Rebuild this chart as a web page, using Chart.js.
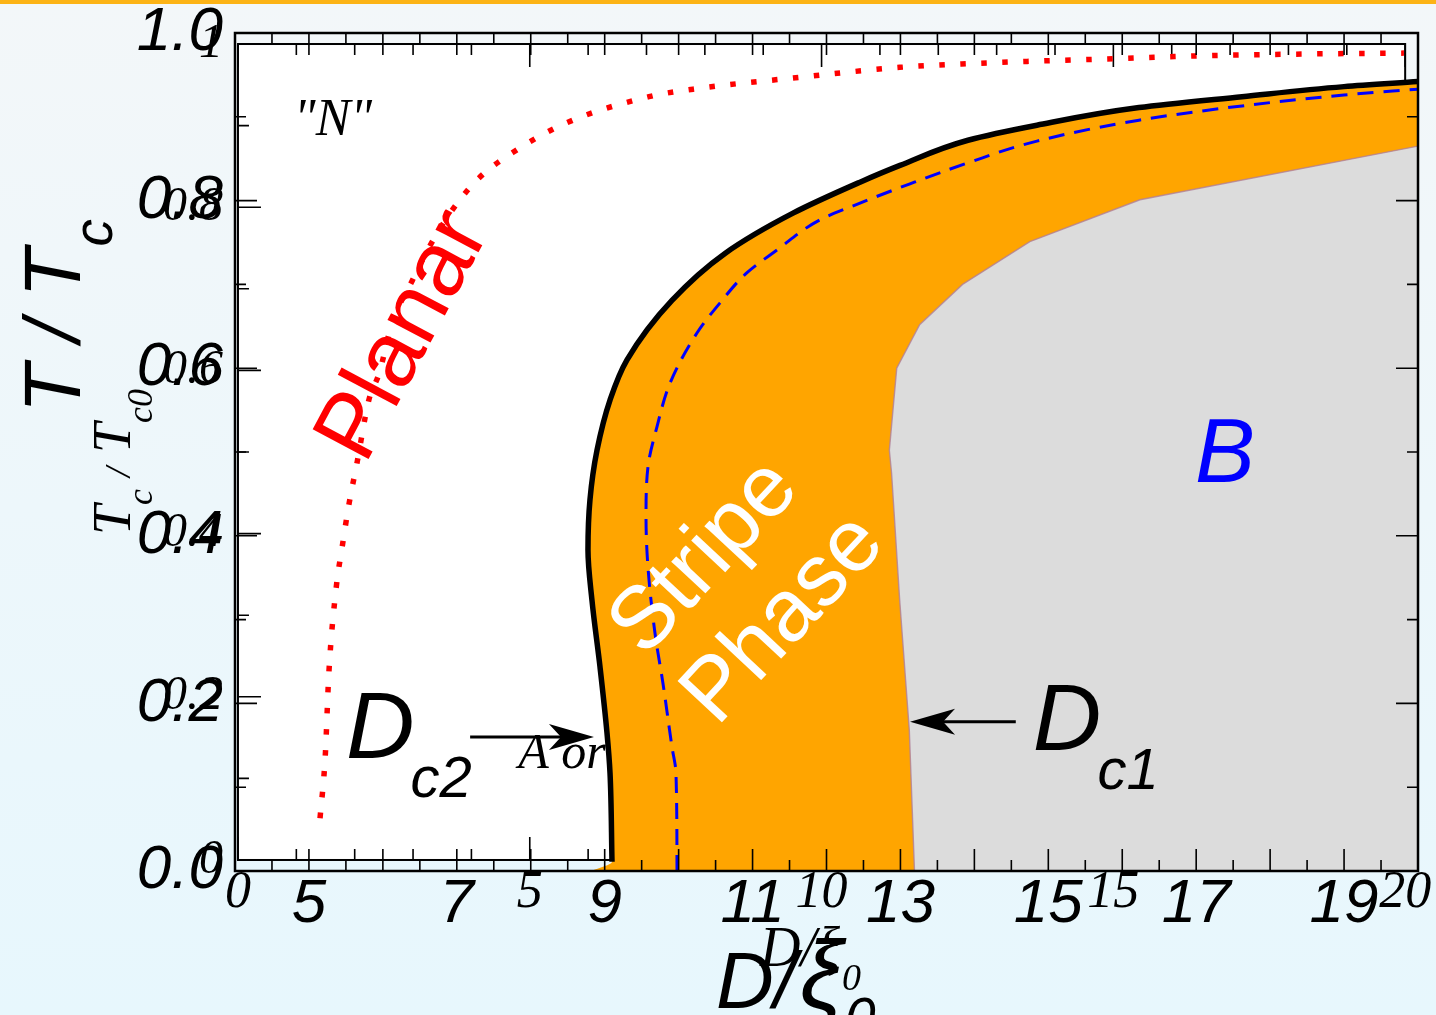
<!DOCTYPE html>
<html>
<head>
<meta charset="utf-8">
<title>Phase diagram</title>
<script src="https://cdn.jsdelivr.net/npm/chart.js@4.4.1/dist/chart.umd.min.js"></script>
<style>
  html, body { margin: 0; padding: 0; }
  body {
    width: 1436px; height: 1015px; overflow: hidden; position: relative;
    background: linear-gradient(to bottom, #f3f7f9 0%, #e7f7fd 100%);
  }
  #topbar { position: absolute; left: 0; top: 0; width: 1436px; height: 4px; background: #fcb316; }
  .wrap { position: absolute; left: 0; top: 0; width: 1436px; height: 1015px; }
</style>
</head>
<body>
<div class="wrap"><canvas id="phase"></canvas></div>
<div id="topbar"></div>
<script>
const sans = '"Liberation Sans", Arial, sans-serif';
const serif = '"Liberation Serif", "Times New Roman", serif';

// tick labels
const dTicks = [5, 7, 9, 11, 13, 15, 17, 19];
const tTicks = [0, 0.2, 0.4, 0.6, 0.8, 1.0];
const dTicksRef = [0, 5, 10, 15, 20];
const tTicksRef = [0, 0.2, 0.4, 0.6, 0.8, 1];

// Dc2 line (upper boundary of the stripe phase); first point is the foot of the fill
const dc2D = [8.82, 9.099, 9.072, 9.031, 8.936, 8.828, 8.774, 8.801, 8.896, 9.072, 9.302, 9.910, 10.627, 11.547, 12.453, 12.994, 13.913, 14.846, 16.226, 17.619, 18.999, 20.0];
const dc2T = [0.0, 0.011, 0.117, 0.165, 0.244, 0.323, 0.383, 0.443, 0.502, 0.562, 0.610, 0.681, 0.737, 0.785, 0.822, 0.842, 0.872, 0.890, 0.911, 0.924, 0.936, 0.942];

// dashed line inside the stripe phase
const innerD = [9.978, 9.964, 9.91, 9.788, 9.68, 9.585, 9.559, 9.585, 9.707, 9.883, 10.248, 10.56, 10.925, 11.33, 11.912, 12.453, 13.129, 13.913, 14.846, 16.226, 17.619, 18.999, 20.0];
const innerT = [0.0, 0.117, 0.148, 0.224, 0.284, 0.363, 0.422, 0.482, 0.530, 0.582, 0.642, 0.678, 0.714, 0.741, 0.777, 0.797, 0.820, 0.845, 0.871, 0.896, 0.913, 0.926, 0.933];

// Dc1 line (edge of the B phase)
const dc1D = [13.19, 13.12, 12.99, 12.88, 12.85, 12.95, 13.26, 13.84, 14.75, 16.24, 20.0];
const dc1T = [0.0, 0.168, 0.323, 0.475, 0.502, 0.600, 0.652, 0.700, 0.751, 0.801, 0.865];

// planar transition
const planarD = [5.15, 5.22, 5.27, 5.37, 5.45, 5.54, 5.65, 5.81, 5.95, 6.125, 6.40, 6.63, 6.94, 7.30, 7.75, 8.49, 9.60, 10.28, 11.63, 12.99, 14.38, 15.76, 17.16, 18.54, 19.81];
const planarT = [0.063, 0.136, 0.237, 0.339, 0.387, 0.437, 0.487, 0.562, 0.594, 0.654, 0.705, 0.745, 0.789, 0.827, 0.857, 0.893, 0.924, 0.934, 0.947, 0.959, 0.965, 0.969, 0.973, 0.975, 0.976];

const pts = (xs, ys) => xs.map((x, i) => ({ x: x, y: ys[i] }));

function arrow(ctx, x0, y0, x1, y1) {
  const a = Math.atan2(y1 - y0, x1 - x0);
  ctx.save();
  ctx.lineWidth = 3;
  ctx.beginPath();
  ctx.moveTo(x0, y0);
  ctx.lineTo(x1 - 30 * Math.cos(a), y1 - 30 * Math.sin(a));
  ctx.stroke();
  ctx.translate(x1, y1);
  ctx.rotate(a);
  ctx.beginPath();
  ctx.moveTo(0, 0);
  ctx.lineTo(-45, -13);
  ctx.lineTo(-33, 0);
  ctx.lineTo(-45, 13);
  ctx.closePath();
  ctx.fill();
  ctx.restore();
}

function dLabel(ctx, x, y, sub) {
  ctx.font = 'italic 95px ' + sans;
  ctx.textAlign = 'left';
  ctx.textBaseline = 'alphabetic';
  ctx.fillText('D', x, y);
  const w = ctx.measureText('D').width;
  ctx.font = 'italic 58px ' + sans;
  ctx.fillText(sub, x + w - 4, y + 39);
}

function rotated(ctx, text, x, y, deg, font, color) {
  ctx.save();
  ctx.translate(x, y);
  ctx.rotate(deg * Math.PI / 180);
  ctx.font = font;
  ctx.fillStyle = color;
  ctx.textAlign = 'center';
  ctx.textBaseline = 'middle';
  ctx.fillText(text, 0, 0);
  ctx.restore();
}

const decor = {
  id: 'decor',
  beforeDatasetsDraw(chart) {
    const { ctx, chartArea: a } = chart;
    const sx = chart.scales.x2, sy = chart.scales.y2;
    const l = sx.getPixelForValue(0), r = sx.getPixelForValue(20);
    const t = sy.getPixelForValue(1), b = sy.getPixelForValue(0);
    ctx.save();
    ctx.fillStyle = '#fff';
    ctx.fillRect(l, t, r - l, b - t);
    ctx.strokeStyle = '#000';
    ctx.lineWidth = 1.6;
    ctx.beginPath();
    for (let v = 0; v <= 20; v++) {
      const px = sx.getPixelForValue(v), len = v % 5 === 0 ? 23 : 11;
      ctx.moveTo(px, b); ctx.lineTo(px, b - len);
      ctx.moveTo(px, t); ctx.lineTo(px, t + len);
    }
    for (let k = 0; k <= 10; k++) {
      const py = sy.getPixelForValue(k / 10), len = k % 2 === 0 ? 23 : 11;
      ctx.moveTo(l, py); ctx.lineTo(l + len, py);
      ctx.moveTo(r, py); ctx.lineTo(r - len, py);
    }
    ctx.stroke();
    ctx.lineWidth = 2;
    ctx.strokeRect(l, t, r - l, b - t);

    // tick labels of the second frame
    ctx.fillStyle = '#000';
    ctx.font = 'italic 52px ' + serif;
    ctx.textAlign = 'center';
    ctx.textBaseline = 'middle';
    dTicksRef.forEach(v => ctx.fillText(String(v), sx.getPixelForValue(v), a.bottom + 22));
    ctx.font = 'italic 48px ' + serif;
    ctx.textAlign = 'right';
    tTicksRef.forEach(v => ctx.fillText((v === 0 || v === 1) ? String(v) : v.toFixed(1), a.left - 12, sy.getPixelForValue(v)));

    const x = chart.scales.x, y = chart.scales.y;
    ctx.font = 'italic 50px ' + serif;
    ctx.textAlign = 'left';
    ctx.textBaseline = 'alphabetic';
    ctx.fillText('A or', x.getPixelForValue(7.83), y.getPixelForValue(0.123));
    ctx.restore();
  },
  afterDatasetsDraw(chart) {
    const { ctx, chartArea: a } = chart;
    const x = chart.scales.x, y = chart.scales.y;
    ctx.save();
    ctx.strokeStyle = '#000';
    ctx.fillStyle = '#000';
    ctx.lineWidth = 1.6;
    ctx.beginPath();
    for (let k = 8; k <= 40; k++) {
      const px = x.getPixelForValue(k / 2), len = k % 2 === 0 ? 22 : 11;
      ctx.moveTo(px, a.bottom); ctx.lineTo(px, a.bottom - len);
      ctx.moveTo(px, a.top); ctx.lineTo(px, a.top + len);
    }
    for (let k = 0; k <= 10; k++) {
      const py = y.getPixelForValue(k / 10), len = k % 2 === 0 ? 22 : 11;
      ctx.moveTo(a.left, py); ctx.lineTo(a.left + len, py);
      ctx.moveTo(a.right, py); ctx.lineTo(a.right - len, py);
    }
    ctx.stroke();
    ctx.lineWidth = 2.5;
    ctx.strokeRect(a.left, a.top, a.right - a.left, a.bottom - a.top);

    // region labels
    ctx.font = 'italic 52px ' + serif;
    ctx.textAlign = 'center';
    ctx.textBaseline = 'middle';
    ctx.fillText('"N"', x.getPixelForValue(5.325), y.getPixelForValue(0.894));

    rotated(ctx, 'Planar', x.getPixelForValue(6.30), y.getPixelForValue(0.638), -62, '92px ' + sans, '#ff0000');
    rotated(ctx, 'Stripe', x.getPixelForValue(10.36), y.getPixelForValue(0.3735), -47, '88px ' + sans, '#ffffff');
    rotated(ctx, 'Phase', x.getPixelForValue(11.43), y.getPixelForValue(0.300), -47, '88px ' + sans, '#ffffff');

    ctx.fillStyle = '#0000ff';
    ctx.font = 'italic 90px ' + sans;
    ctx.fillText('B', x.getPixelForValue(17.39), y.getPixelForValue(0.494));

    ctx.fillStyle = '#000';
    dLabel(ctx, x.getPixelForValue(5.50), y.getPixelForValue(0.135), 'c2');
    dLabel(ctx, x.getPixelForValue(14.79), y.getPixelForValue(0.144), 'c1');
    arrow(ctx, x.getPixelForValue(7.18), y.getPixelForValue(0.16), x.getPixelForValue(8.855), y.getPixelForValue(0.16));
    arrow(ctx, x.getPixelForValue(14.56), y.getPixelForValue(0.178), x.getPixelForValue(13.13), y.getPixelForValue(0.178));
    ctx.restore();
  },
  afterDraw(chart) {
    const { ctx } = chart;
    ctx.save();
    ctx.fillStyle = '#000';
    ctx.textAlign = 'left';
    ctx.textBaseline = 'alphabetic';

    // y title, sans
    ctx.save();
    ctx.translate(80, 413);
    ctx.rotate(-Math.PI / 2);
    ctx.font = 'italic 80px ' + sans;
    ctx.fillText('T / T', 0, 0);
    let w = ctx.measureText('T / T').width;
    ctx.font = 'italic 55px ' + sans;
    ctx.fillText('c', w + 2, 32);
    ctx.restore();

    // y title, serif
    ctx.save();
    ctx.translate(130, 535);
    ctx.rotate(-Math.PI / 2);
    let cx = 0;
    ctx.font = 'italic 54px ' + serif;
    ctx.fillText('T', 0, 0);
    cx += ctx.measureText('T').width;
    ctx.font = 'italic 36px ' + serif;
    ctx.fillText('c', cx, 22);
    cx += ctx.measureText('c').width + 12;
    ctx.fillText('/', cx, 0);
    cx += ctx.measureText('/').width + 14;
    ctx.font = 'italic 54px ' + serif;
    ctx.fillText('T', cx, 0);
    cx += ctx.measureText('T').width;
    ctx.font = 'italic 36px ' + serif;
    ctx.fillText('c0', cx, 22);
    ctx.restore();

    // x title, serif then sans
    ctx.font = 'italic 56px ' + serif;
    ctx.fillText('D/\u03be', 760, 966);
    w = ctx.measureText('D/\u03be').width;
    ctx.font = 'italic 38px ' + serif;
    ctx.fillText('0', 762 + w, 990);

    ctx.font = 'italic 80px ' + sans;
    ctx.fillText('D/', 716, 1008);
    w = ctx.measureText('D/').width;
    ctx.font = 'italic 96px ' + sans;
    ctx.fillText('\u03be', 716 + w + 4, 1008);
    const w2 = ctx.measureText('\u03be').width;
    ctx.font = 'italic 55px ' + sans;
    ctx.fillText('0', 716 + w + w2 + 6, 1036);
    ctx.restore();
  }
};

const setTicks = vals => scale => { scale.ticks = vals.map(v => ({ value: v })); };
const noPad = size => s => {
  if (size.h !== undefined) s.height = size.h;
  if (size.w !== undefined) s.width = size.w;
  s.paddingTop = 0; s.paddingBottom = 0; s.paddingLeft = 0; s.paddingRight = 0;
};

new Chart(document.getElementById('phase'), {
  type: 'line',
  data: {
    datasets: [
      {
        label: 'Stripe phase',
        data: pts(dc2D, dc2T),
        indexAxis: 'y',
        xAxisID: 'x', yAxisID: 'y',
        fill: { value: 20 },
        backgroundColor: '#ffa500',
        borderColor: 'rgba(0,0,0,0)',
        borderWidth: 0,
        pointRadius: 0,
        cubicInterpolationMode: 'monotone',
        order: 4
      },
      {
        label: 'B',
        data: pts(dc1D, dc1T),
        indexAxis: 'y',
        xAxisID: 'x', yAxisID: 'y',
        fill: { value: 20 },
        backgroundColor: '#dcdcdc',
        borderColor: 'rgba(176,128,152,0.8)',
        borderWidth: 1.4,
        pointRadius: 0,
        tension: 0,
        order: 3
      },
      {
        label: 'inner',
        data: pts(innerD, innerT),
        indexAxis: 'y',
        xAxisID: 'x', yAxisID: 'y',
        fill: false,
        borderColor: '#0000ff',
        borderWidth: 3,
        borderDash: [16, 10],
        pointRadius: 0,
        cubicInterpolationMode: 'monotone',
        order: 2
      },
      {
        label: 'Dc2',
        data: pts(dc2D.slice(1), dc2T.slice(1)),
        indexAxis: 'y',
        xAxisID: 'x', yAxisID: 'y',
        fill: false,
        borderColor: '#000000',
        borderWidth: 5.5,
        pointRadius: 0,
        cubicInterpolationMode: 'monotone',
        order: 1
      },
      {
        label: 'Planar',
        data: pts(planarD, planarT),
        xAxisID: 'x', yAxisID: 'y',
        fill: false,
        borderColor: '#ff0000',
        borderWidth: 5.5,
        borderDash: [5.5, 15.5],
        borderCapStyle: 'butt',
        pointRadius: 0,
        cubicInterpolationMode: 'monotone',
        order: 0
      }
    ]
  },
  options: {
    responsive: true,
    maintainAspectRatio: false,
    animation: false,
    devicePixelRatio: 1,
    layout: { padding: { top: 33, right: 18, left: 0, bottom: 0 } },
    plugins: { legend: { display: false }, tooltip: { enabled: false } },
    scales: {
      x: {
        type: 'linear', position: 'bottom', min: 4, max: 20,
        afterBuildTicks: setTicks(dTicks),
        afterFit: noPad({ h: 144 }),
        grid: { display: false, drawTicks: false },
        border: { display: false },
        ticks: {
          autoSkip: false, maxRotation: 0, minRotation: 0, padding: 3, color: '#000',
          font: { family: sans, size: 62, style: 'italic', lineHeight: 1 },
          callback: v => String(v)
        }
      },
      x2: {
        type: 'linear', position: 'bottom', display: false, min: -0.051, max: 20.22
      },
      y: {
        type: 'linear', position: 'left', min: 0, max: 1,
        afterBuildTicks: setTicks(tTicks),
        afterFit: noPad({ w: 235 }),
        grid: { display: false, drawTicks: false },
        border: { display: false },
        ticks: {
          autoSkip: false, padding: 12, color: '#000',
          font: { family: sans, size: 62, style: 'italic', lineHeight: 1 },
          callback: v => v.toFixed(1)
        }
      },
      y2: {
        type: 'linear', position: 'left', display: false, min: -0.0135, max: 1.0135
      }
    }
  },
  plugins: [decor]
});
</script>
</body>
</html>
